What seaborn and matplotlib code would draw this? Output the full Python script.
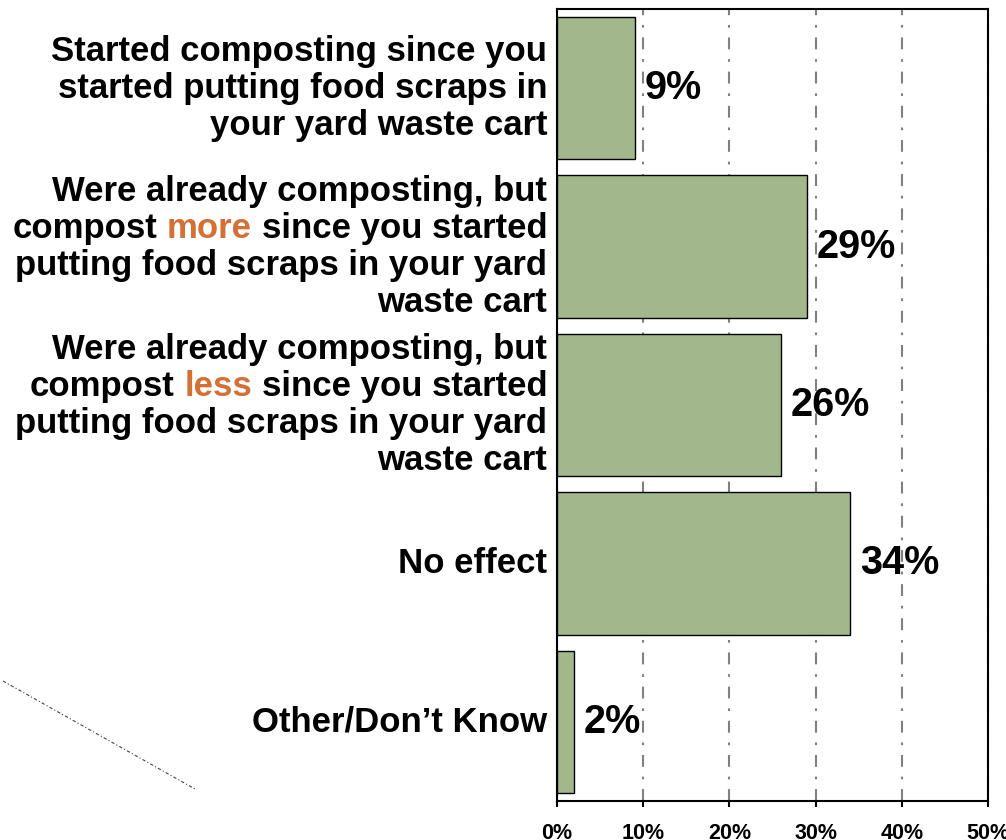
import matplotlib
matplotlib.use("Agg")
import matplotlib.pyplot as plt
import seaborn as sns
import pandas as pd
from matplotlib.lines import Line2D
from matplotlib.ticker import FuncFormatter

# Survey answers (share of respondents)
categories = [
    "Started composting",
    "Already composting, compost more",
    "Already composting, compost less",
    "No effect",
    "Other/Don't Know",
]
percent = [9, 29, 26, 34, 2]

# label text, words between * are highlighted
label_lines = [
    ["Started composting since you", "started putting food scraps in", "your yard waste cart"],
    ["Were already composting, but", "compost *more* since you started",
     "putting food scraps in your yard", "waste cart"],
    ["Were already composting, but", "compost *less* since you started",
     "putting food scraps in your yard", "waste cart"],
    ["No effect"],
    ["Other/Don\u2019t Know"],
]
x_ticks = [0, 10, 20, 30, 40, 50]

BAR_COLOR = "#a2b78b"
ACCENT = "#d46f35"
LABEL_SIZE = 25
LINE_GAP = 26.6  # points between label lines


def generate_plot():
    sns.set_style("white")
    plt.rcParams["font.family"] = ["Liberation Sans", "DejaVu Sans"]
    plt.rcParams["font.weight"] = "bold"
    plt.rcParams["text.color"] = "black"
    plt.rcParams["xtick.color"] = "black"
    plt.rcParams["xtick.labelcolor"] = "black"

    df = pd.DataFrame({"Category": categories, "Percent": percent})

    fig = plt.figure(figsize=(10.06, 8.4), dpi=100)
    ax = fig.add_axes([0.5537, 0.0464, 0.4284, 0.9429])

    sns.barplot(data=df, x="Percent", y="Category", orient="h", color=BAR_COLOR,
                saturation=1, width=0.9, edgecolor="black", linewidth=1, ax=ax, zorder=3)

    ax.set_xlim(0, 50)
    ax.set_xticks(x_ticks)
    ax.xaxis.set_major_formatter(FuncFormatter(lambda v, p: f"{v:.0f}%"))
    ax.set_axisbelow(True)
    ax.xaxis.grid(True, color="#808080", linewidth=1.5, linestyle=(0, (5.7, 4.7, 1.3, 4.7)))
    ax.yaxis.grid(False)
    for s in ax.spines.values():
        s.set_visible(True)
        s.set_color("black")
        s.set_linewidth(1.5)
    ax.tick_params(axis="x", direction="out", length=4.5, width=1.5, color="black",
                   labelcolor="black", labelsize=15.5, pad=11.5, bottom=True)
    for t in ax.get_xticklabels():
        t.set_fontweight("bold")
    ax.tick_params(axis="y", length=0)
    ax.set_yticklabels([])
    ax.set_xlabel("")
    ax.set_ylabel("")

    # value labels
    for i, v in enumerate(percent):
        ax.annotate(f"{v}%", xy=(v, i), xytext=(7, 0), textcoords="offset points",
                    ha="left", va="center", fontsize=28.5, fontweight="bold",
                    color="black", zorder=5)

    # category labels, drawn piece by piece so a word can be coloured
    space = 0.278 * LABEL_SIZE
    for i, lines in enumerate(label_lines):
        n = len(lines)
        for j, line in enumerate(lines):
            dy = ((n - 1) / 2 - j) * LINE_GAP
            parts = line.split("*")
            prev = None
            for k in reversed(range(len(parts))):
                raw = parts[k]
                txt = raw.strip()
                if not txt:
                    continue
                color = ACCENT if k % 2 else "black"
                if prev is None:
                    prev = ax.annotate(txt, xy=(0, i), xycoords=("axes fraction", "data"),
                                       xytext=(-7, dy), textcoords="offset points",
                                       ha="right", va="center", fontsize=LABEL_SIZE,
                                       fontweight="bold", color=color, annotation_clip=False)
                else:
                    gap = space if (raw.endswith(" ") or parts[k + 1].startswith(" ")) else 0
                    prev = ax.annotate(txt, xy=(0, 0), xycoords=prev,
                                       xytext=(-gap, 0), textcoords="offset points",
                                       ha="right", va="bottom", fontsize=LABEL_SIZE,
                                       fontweight="bold", color=color, annotation_clip=False)

    # stray dash-dot connector at lower left
    fig.add_artist(Line2D([3 / 1006, 195 / 1006], [1 - 681 / 840, 1 - 789 / 840],
                          transform=fig.transFigure, color="#444444", linewidth=0.8,
                          linestyle=(0, (3, 2, 1, 2))))

    fig.savefig("out.png", dpi=100)


if __name__ == "__main__":
    generate_plot()
